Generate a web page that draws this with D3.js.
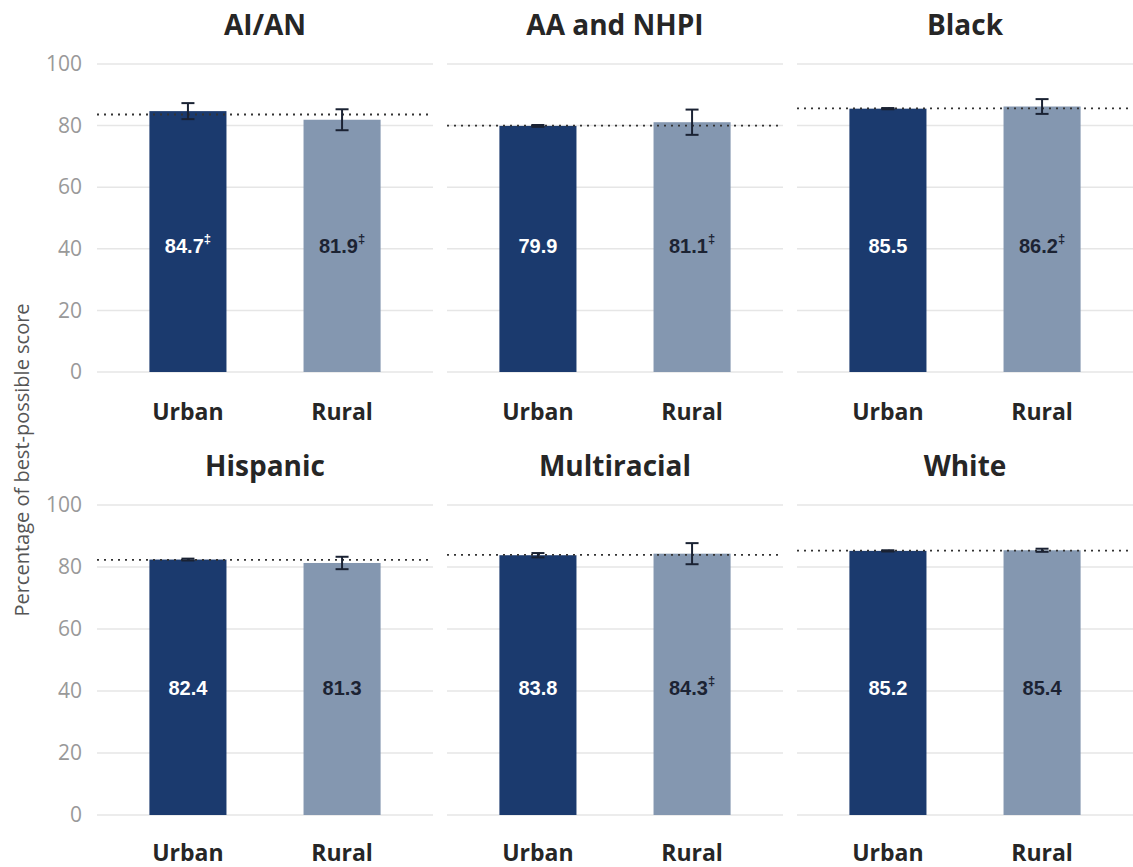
<!DOCTYPE html>
<html>
<head>
<meta charset="utf-8">
<script src="https://cdn.jsdelivr.net/npm/d3@7"></script>
<style>
  body { margin: 0; background: #fff; }
  svg { display: block; }
</style>
</head>
<body>
<svg id="chart" width="1133" height="867"></svg>
<script>
// ---- Data ----
const groups = ["AI/AN", "AA and NHPI", "Black", "Hispanic", "Multiracial", "White"];
const settings = ["Urban", "Rural"];
const urbanValues = [84.7, 79.9, 85.5, 82.4, 83.8, 85.2];
const ruralValues = [81.9, 81.1, 86.2, 81.3, 84.3, 85.4];
const urbanErrors = [2.6, 0.3, 0.2, 0.3, 0.7, 0.2];
const ruralErrors = [3.4, 4.1, 2.4, 2.0, 3.4, 0.5];
const urbanFlag = [true, false, false, false, false, false];
const ruralFlag = [true, true, true, false, true, false];
const overallValues = [83.6, 80.0, 85.6, 82.3, 83.9, 85.3];
const yTicks = [0, 20, 40, 60, 80, 100];
const yTitle = "Percentage of best-possible score";
const labelValue = 40; // vertical position (in data units) of value labels

// ---- Layout ----
const svg = d3.select("#chart");
const panelW = 336;
const panelX0 = [97, 447, 797];
const rows = [{ top: 64, bottom: 372, title: 35, cat: 420 },
              { top: 505, bottom: 815, title: 476, cat: 861 }];
const colors = { Urban: "#1b3a6e", Rural: "#8497b0" };
const labelColors = { Urban: "#ffffff", Rural: "#1c2333" };

groups.forEach((g, i) => {
  const r = rows[Math.floor(i / 3)];
  const c = i % 3;
  const x0 = panelX0[c];
  const gp = svg.append("g").attr("transform", `translate(${x0},0)`);

  const x = d3.scaleBand().domain(settings).range([0, panelW])
    .paddingInner(0.5).paddingOuter(0.34);
  const y = d3.scaleLinear().domain([0, 100]).range([r.bottom, r.top]);

  // gridlines
  gp.append("g").selectAll("line").data(yTicks).join("line")
    .attr("x1", 0).attr("x2", panelW)
    .attr("y1", d => y(d)).attr("y2", d => y(d))
    .attr("stroke", "#e6e6e6").attr("stroke-width", 1.5);

  // y tick labels (first column only)
  if (c === 0) {
    const ax = d3.axisLeft(y).tickValues(yTicks).tickSize(0).tickPadding(15);
    const axg = gp.append("g").call(ax);
    axg.select(".domain").remove();
    axg.selectAll("text").attr("font-family", "'Open Sans', sans-serif")
      .attr("font-size", 21).attr("fill", "#999999");
  }

  const vals = { Urban: urbanValues[i], Rural: ruralValues[i] };
  const errs = { Urban: urbanErrors[i], Rural: ruralErrors[i] };
  const flags = { Urban: urbanFlag[i], Rural: ruralFlag[i] };

  // bars
  gp.selectAll("rect.bar").data(settings).join("rect")
    .attr("class", "bar")
    .attr("x", d => x(d)).attr("width", x.bandwidth())
    .attr("y", d => y(vals[d])).attr("height", d => y(0) - y(vals[d]))
    .attr("fill", d => colors[d]);

  // overall dotted reference line
  gp.append("line")
    .attr("x1", 0).attr("x2", panelW)
    .attr("y1", y(overallValues[i])).attr("y2", y(overallValues[i]))
    .attr("stroke", "#333").attr("stroke-width", 1.8)
    .attr("stroke-dasharray", "2,5");

  // error bars
  settings.forEach(s => {
    const cx = x(s) + x.bandwidth() / 2;
    const lo = y(vals[s] - errs[s]), hi = y(vals[s] + errs[s]);
    const eg = gp.append("g").attr("stroke", "#1a2233").attr("stroke-width", 2);
    eg.append("line").attr("x1", cx).attr("x2", cx).attr("y1", lo).attr("y2", hi);
    eg.append("line").attr("x1", cx - 6.5).attr("x2", cx + 6.5).attr("y1", lo).attr("y2", lo);
    eg.append("line").attr("x1", cx - 6.5).attr("x2", cx + 6.5).attr("y1", hi).attr("y2", hi);
  });

  // value labels
  settings.forEach(s => {
    const cx = x(s) + x.bandwidth() / 2;
    const t = gp.append("text")
      .attr("x", cx).attr("y", y(labelValue) + 4)
      .attr("text-anchor", "middle")
      .attr("font-family", "'Liberation Sans', Arial, sans-serif")
      .attr("font-weight", "bold").attr("font-size", 20)
      .attr("fill", labelColors[s])
      .text(vals[s].toFixed(1));
    if (flags[s]) {
      t.append("tspan").attr("dy", -10).attr("font-size", 13).text("‡");
    }
  });

  // category labels
  gp.selectAll("text.cat").data(settings).join("text")
    .attr("class", "cat")
    .attr("x", d => x(d) + x.bandwidth() / 2).attr("y", r.cat)
    .attr("text-anchor", "middle")
    .attr("font-family", "'Open Sans', sans-serif")
    .attr("font-weight", "bold").attr("font-size", 23)
    .attr("fill", "#262626")
    .text(d => d);

  // panel title
  gp.append("text")
    .attr("x", panelW / 2).attr("y", r.title)
    .attr("text-anchor", "middle")
    .attr("font-family", "'Open Sans', sans-serif")
    .attr("font-weight", "bold").attr("font-size", 28)
    .attr("fill", "#262626")
    .text(g);
});

// y-axis title
svg.append("text")
  .attr("transform", "translate(29,460) rotate(-90)")
  .attr("text-anchor", "middle")
  .attr("font-family", "'Open Sans', sans-serif")
  .attr("font-size", 20).attr("fill", "#555")
  .text(yTitle);
</script>
</body>
</html>
